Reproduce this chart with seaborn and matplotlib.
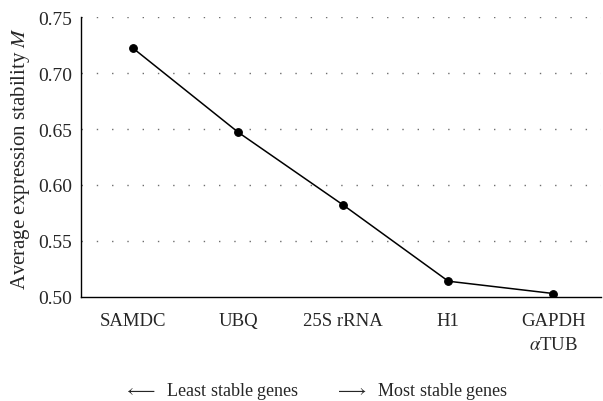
import matplotlib
matplotlib.use("Agg")
import matplotlib.pyplot as plt
import seaborn as sns

genes = ["SAMDC", "UBQ", "25S rRNA", "H1", "GAPDH\n$\\alpha$TUB"]
stability_m = [0.722, 0.647, 0.582, 0.514, 0.503]
y_ticks = [0.50, 0.55, 0.60, 0.65, 0.70, 0.75]

sns.set_theme(style="white")
plt.rcParams["font.family"] = ["Liberation Serif", "DejaVu Serif"]
plt.rcParams["mathtext.fontset"] = "stix"

fig = plt.figure(figsize=(6.03, 4.02), dpi=100)
ax = fig.add_axes([0.134, 0.259, 0.862, 0.696])

sns.pointplot(x=genes, y=stability_m, color="black", markersize=5.5,
              linewidth=1.1, ax=ax)

ax.set_ylim(0.50, 0.75)
ax.set_yticks(y_ticks)
ax.set_yticklabels([f"{t:.2f}" for t in y_ticks], fontsize=14)
ax.set_xlim(-0.5, 4.45)
ax.tick_params(axis="x", labelsize=13.5, length=0, pad=11)
ax.tick_params(axis="y", length=0, pad=6.5)
for lbl in ax.get_xticklabels():
    lbl.set_linespacing(1.55)
for t in y_ticks[1:]:
    ax.axhline(t, color="#6e6e6e", linestyle=(0, (1, 10)), linewidth=1.0, zorder=0)

for s in ["top", "right"]:
    ax.spines[s].set_visible(False)
for s in ["left", "bottom"]:
    ax.spines[s].set_color("black")
    ax.spines[s].set_linewidth(1.0)

ax.set_xlabel("")
ax.set_ylabel("Average expression stability $M$", fontsize=15, labelpad=4)

fig.text(0.205, 0.0, "$\\longleftarrow$  Least stable genes", fontsize=13,
         ha="left", va="bottom")
fig.text(0.555, 0.0, "$\\longrightarrow$  Most stable genes", fontsize=13,
         ha="left", va="bottom")

fig.savefig("out.png", dpi=100)
